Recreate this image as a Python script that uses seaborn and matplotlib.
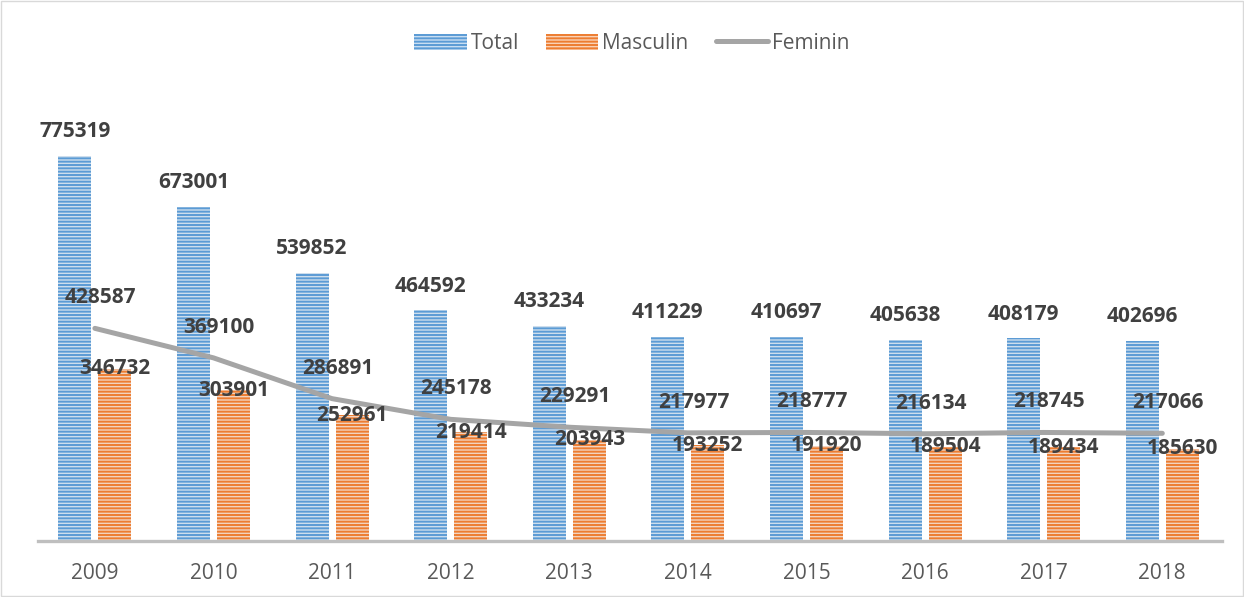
import matplotlib
matplotlib.use("Agg")
import matplotlib.pyplot as plt
import seaborn as sns
import pandas as pd
from matplotlib.patches import Patch, Rectangle
from matplotlib.lines import Line2D

years = ["2009", "2010", "2011", "2012", "2013", "2014", "2015", "2016", "2017", "2018"]
total = [775319, 673001, 539852, 464592, 433234, 411229, 410697, 405638, 408179, 402696]
masculin = [346732, 303901, 252961, 219414, 203943, 193252, 191920, 189504, 189434, 185630]
feminin = [428587, 369100, 286891, 245178, 229291, 217977, 218777, 216134, 218745, 217066]

sns.set_theme(style="white")
plt.rcParams['font.family'] = ['Open Sans', 'DejaVu Sans']
plt.rcParams['hatch.linewidth'] = 1.4

df = pd.DataFrame({
    "year": years * 2,
    "value": total + masculin,
    "serie": ["Total"] * len(years) + ["Masculin"] * len(years),
})

fig = plt.figure(figsize=(12.44, 5.97), dpi=100)
ax = fig.add_axes([0.0305, 0.0938, 0.9515, 0.748])

blue_face, blue_hatch = "#c9def2", "#5b9bd5"
orange_face, orange_hatch = "#fad2b6", "#ed7d31"
HATCH = "-----"

sns.barplot(data=df, x="year", y="value", hue="serie", order=years,
            hue_order=["Total", "Masculin"], width=0.675, gap=0.176,
            palette={"Total": blue_face, "Masculin": orange_face},
            legend=False, ax=ax, linewidth=0)

n = len(years)
for i, p in enumerate(ax.patches[:2 * n]):
    p.set_hatch(HATCH)
    p.set_edgecolor(blue_hatch if i < n else orange_hatch)
    p.set_linewidth(0)

x = list(range(n))
sns.lineplot(x=x, y=feminin, ax=ax, color="#a5a5a5", linewidth=3.6,
             solid_capstyle="round", legend=False)

label_kw = dict(fontsize=15, fontweight="bold", color="#404040", ha="center")
tot_bars = ax.patches[:n]
mas_bars = ax.patches[n:2 * n]
for i in range(n):
    tb = tot_bars[i]
    ax.annotate(f"{total[i]}", (tb.get_x() + tb.get_width() / 2, total[i]),
                xytext=(0, 10), textcoords="offset points", va="bottom", **label_kw)
    mb = mas_bars[i]
    ax.annotate(f"{masculin[i]}", (mb.get_x() + mb.get_width() / 2, masculin[i]),
                xytext=(0, 0), textcoords="offset points", va="center", **label_kw)
    ax.annotate(f"{feminin[i]}", (x[i], feminin[i]),
                xytext=(4, 22), textcoords="offset points", va="center", **label_kw)

ax.set_ylim(0, 900000)
ax.set_xlim(-0.48, 9.5)
ax.set_xlabel("")
ax.set_ylabel("")
ax.set_yticks([])
for s in ["top", "right", "left"]:
    ax.spines[s].set_visible(False)
ax.spines["bottom"].set_color("#bfbfbf")
ax.spines["bottom"].set_linewidth(2.4)
ax.tick_params(axis="x", length=0, labelsize=15, labelcolor="#595959", pad=16)

handles = [
    Patch(facecolor=blue_face, edgecolor=blue_hatch, hatch=HATCH, linewidth=0, label="Total"),
    Patch(facecolor=orange_face, edgecolor=orange_hatch, hatch=HATCH, linewidth=0, label="Masculin"),
    Line2D([0], [0], color="#a5a5a5", linewidth=3.6, solid_capstyle="round", label="Feminin"),
]
leg = fig.legend(handles=handles, loc="center", bbox_to_anchor=(0.508, 0.927), ncol=3,
                 frameon=False, fontsize=15, handlelength=2.5, handleheight=0.8,
                 handletextpad=0.2, columnspacing=1.3)
for t in leg.get_texts():
    t.set_color("#595959")

fig.patches.append(Rectangle((0.001, 0.001), 0.998, 0.998, transform=fig.transFigure,
                             fill=False, edgecolor="#d9d9d9", linewidth=1.0))

fig.savefig("out.png", dpi=100)
